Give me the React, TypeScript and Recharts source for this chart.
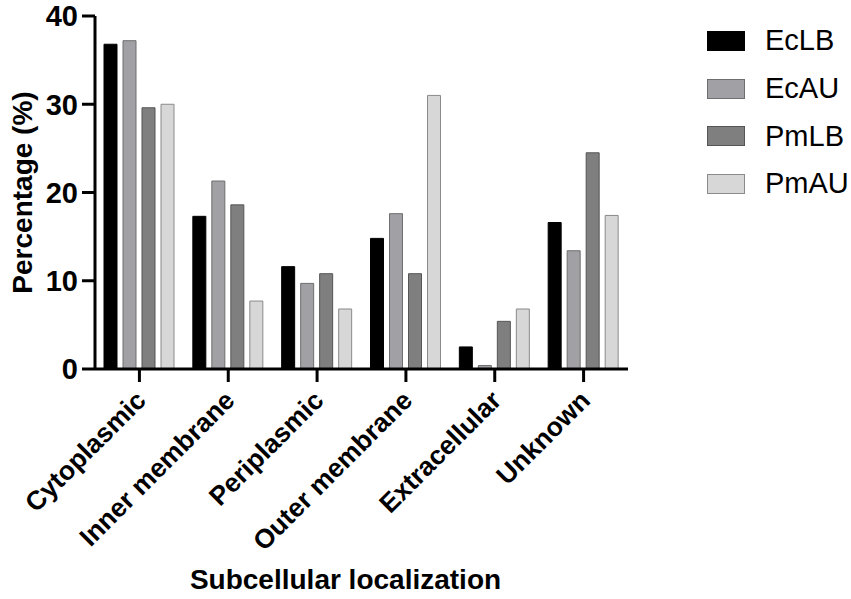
import React from 'react';
import { BarChart, Bar, XAxis, YAxis, Legend } from 'recharts';

const CATEGORIES = ['Cytoplasmic', 'Inner membrane', 'Periplasmic', 'Outer membrane', 'Extracellular', 'Unknown'];
const EC_LB = [36.8, 17.3, 11.6, 14.8, 2.5, 16.6];
const EC_AU = [37.2, 21.3, 9.7, 17.6, 0.4, 13.4];
const PM_LB = [29.6, 18.6, 10.8, 10.8, 5.4, 24.5];
const PM_AU = [30.0, 7.7, 6.8, 31.0, 6.8, 17.4];
const Y_TICKS = [0, 10, 20, 30, 40];

const SERIES = [
  { key: 'EcLB', values: EC_LB, fill: '#000000', stroke: '#000000' },
  { key: 'EcAU', values: EC_AU, fill: '#a0a0a5', stroke: '#6e6e6e' },
  { key: 'PmLB', values: PM_LB, fill: '#7f7f7f', stroke: '#555555' },
  { key: 'PmAU', values: PM_AU, fill: '#d7d7d7', stroke: '#8a8a8a' },
];

const data = CATEGORIES.map((name, i) => {
  const row: Record<string, string | number> = { name };
  SERIES.forEach((s) => {
    row[s.key] = s.values[i];
  });
  return row;
});

const FONT = '"Liberation Sans", Arial, Helvetica, sans-serif';

function CategoryTick({ x, y, payload }: any) {
  return (
    <g transform={`translate(${x + 8}, ${y + 18}) rotate(-45)`}>
      <text x={0} y={0} textAnchor="end" fontFamily={FONT} fontWeight="bold" fontSize={26.5} fill="#000">
        {payload.value}
      </text>
    </g>
  );
}

function LegendBox() {
  return (
    <div style={{ fontFamily: FONT, width: 144 }}>
      {SERIES.map((s) => (
        <div key={s.key} style={{ display: 'flex', alignItems: 'center', height: 47.7 }}>
          <div
            style={{
              flex: '0 0 auto',
              boxSizing: 'border-box',
              width: 38,
              height: 20,
              background: s.fill,
              border: `1px solid ${s.stroke}`,
            }}
          />
          <span
            style={{ flex: '0 0 auto', marginLeft: 20, fontSize: 29, color: '#000', lineHeight: '29px', whiteSpace: 'nowrap' }}
          >
            {s.key}
          </span>
        </div>
      ))}
    </div>
  );
}

export default function App() {
  return (
    <div style={{ position: 'absolute', left: 0, top: 0, width: 851, height: 599, background: '#fff' }}>
      <BarChart
        width={851}
        height={599}
        data={data}
        margin={{ top: 16, right: 223, bottom: 0, left: 0 }}
        barCategoryGap={9}
        barGap={6}
      >
        <XAxis
          dataKey="name"
          height={230}
          interval={0}
          axisLine={{ stroke: '#000', strokeWidth: 3 }}
          tickLine={{ stroke: '#000', strokeWidth: 3 }}
          tickSize={13}
          tick={<CategoryTick />}
          label={{
            content: ({ viewBox }: any) => (
              <text
                x={viewBox.x + viewBox.width / 2 - 16}
                y={589}
                textAnchor="middle"
                fontFamily={FONT}
                fontWeight="bold"
                fontSize={28}
                fill="#000"
              >
                Subcellular localization
              </text>
            ),
          }}
        />
        <YAxis
          width={95}
          domain={[0, 40]}
          ticks={Y_TICKS}
          interval={0}
          axisLine={{ stroke: '#000', strokeWidth: 3 }}
          tickLine={{ stroke: '#000', strokeWidth: 3 }}
          tickSize={13}
          tickMargin={4}
          tick={{ fill: '#000', fontSize: 29, fontWeight: 'bold', fontFamily: FONT }}
          label={{
            content: ({ viewBox }: any) => {
              const cx = 22;
              const cy = viewBox.y + viewBox.height / 2;
              return (
                <text
                  x={cx}
                  y={cy}
                  transform={`rotate(-90, ${cx}, ${cy})`}
                  textAnchor="middle"
                  dominantBaseline="central"
                  fontFamily={FONT}
                  fontWeight="bold"
                  fontSize={28}
                  fill="#000"
                >
                  Percentage (%)
                </text>
              );
            },
          }}
        />
        <Legend
          layout="horizontal"
          verticalAlign="middle"
          align="center"
          content={() => <LegendBox />}
          wrapperStyle={{ left: 707, top: 17, width: 144, height: 200 }}
        />
        {SERIES.map((s) => (
          <Bar
            key={s.key}
            dataKey={s.key}
            fill={s.fill}
            stroke={s.stroke}
            strokeWidth={1}
            isAnimationActive={false}
          />
        ))}
      </BarChart>
    </div>
  );
}
